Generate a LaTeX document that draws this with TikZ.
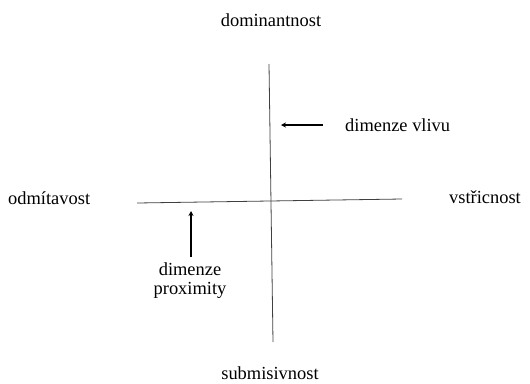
\documentclass[tikz,border=0pt]{standalone}
\usepackage{fontspec}
\setmainfont{Liberation Serif}
\newfontfamily\tms{Liberation Serif}
\usetikzlibrary{arrows.meta}
\begin{document}
\begin{tikzpicture}[x=1bp,y=-1bp,
  axis/.style={draw=black!75,line width=0.8bp},
  lbl/.style={font=\tms\fontsize{18.5}{20}\selectfont,inner sep=0pt},
  ptr/.style={line width=2.4bp,-{Stealth[length=5bp,width=5bp]}}]
\useasboundingbox (0,0) rectangle (530,383);
\coordinate (vt) at (269,64);
\coordinate (vb) at (273,342);
\coordinate (hl) at (137,203);
\coordinate (hr) at (402,199);
\draw[axis] (vt) -- (vb);
\draw[axis] (hl) -- (hr);
\node[lbl] (dom) at (271,20) {dominantnost};
\node[lbl] (sub) at (270,373) {submisivnost};
\node[lbl,anchor=west] (odm) at (8,198) {odmítavost};
\node[lbl,anchor=east] (vst) at (521,197) {vstřicnost};
\node[lbl,anchor=west] (vliv) at (345,125) {dimenze vlivu};
\node[lbl,align=center] (prox) at (190,281) {dimenze\\[-1bp]proximity};
\coordinate (v1) at (323,125);
\coordinate (v2) at (281,125);
\draw[ptr] (v1) -- (v2);
\coordinate (p1) at (191,257);
\coordinate (p2) at (191,211);
\draw[ptr] (p1) -- (p2);
\end{tikzpicture}
\end{document}
